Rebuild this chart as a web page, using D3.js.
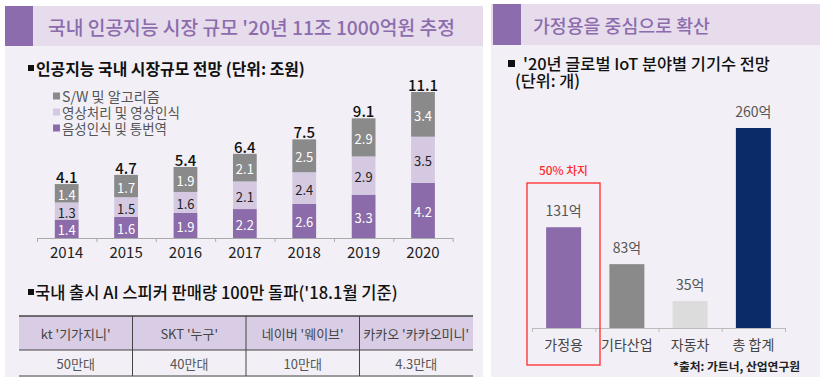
<!DOCTYPE html>
<html><head><meta charset="utf-8">
<script src="https://cdn.jsdelivr.net/npm/d3@7"></script>
<style>
html,body{margin:0;padding:0;background:#fff;}
svg{display:block;font-family:"Noto Sans CJK KR","Noto Sans",sans-serif;}
</style></head>
<body>
<script>
// ---------- data ----------
const years = ['2014','2015','2016','2017','2018','2019','2020'];
const voiceVals = [1.4,1.6,1.9,2.2,2.6,3.3,4.2];   // 음성인식 및 통번역
const imageVals = [1.3,1.5,1.6,2.1,2.4,2.9,3.5];   // 영상처리 및 영상인식
const swVals    = [1.4,1.7,1.9,2.1,2.5,2.9,3.4];   // S/W 및 알고리즘
const totalLabels = ['4.1','4.7','5.4','6.4','7.5','9.1','11.1'];
const seriesNames = ['S/W 및 알고리즘','영상처리 및 영상인식','음성인식 및 통번역'];

const speakerNames = ["kt '기가지니'","SKT '누구'","네이버 '웨이브'","카카오 '카카오미니'"];
const speakerSales = ['50만대','40만대','10만대','4.3만대'];

const iotCats = ['가정용','기타산업','자동차','총 합계'];
const iotVals = [131,83,35,260];
const iotLabels = ['131억','83억','35억','260억'];

// ---------- setup ----------
const W = 826, H = 383;
const svg = d3.select('body').append('svg').attr('width',W).attr('height',H);
const C = {
  panel:'#f2f0f6', bar:'#e6dcec', sq:'#8c6cac', title:'#8c6cac',
  purple:'#8b6ba9', gray:'#8a8a8a', light:'#d5c9e2', head:'#d8cde4', navy:'#0b2a68'
};
function fit(t, w){
  const cur = t.node().getComputedTextLength();
  const fs = parseFloat(t.attr('font-size'));
  if(cur>0) t.attr('font-size', (fs*w/cur).toFixed(2));
  return t;
}

// ---------- left panel ----------
svg.append('rect').attr('x',5).attr('y',6).attr('width',478).attr('height',371).attr('fill',C.panel);
svg.append('rect').attr('x',5).attr('y',6).attr('width',478).attr('height',40).attr('fill',C.bar);
svg.append('rect').attr('x',5).attr('y',6).attr('width',28).attr('height',40).attr('fill',C.sq);
fit(svg.append('text').attr('x',48).attr('y',27).attr('dominant-baseline','central')
  .attr('font-size',18).attr('fill',C.title).attr('font-weight',500)
  .text("국내 인공지능 시장 규모 '20년 11조 1000억원 추정"), 407);

svg.append('rect').attr('x',28).attr('y',65).attr('width',6).attr('height',6).attr('fill','#111');
fit(svg.append('text').attr('x',36).attr('y',68).attr('dominant-baseline','central')
  .attr('font-size',15).attr('font-weight',700).attr('fill','#111')
  .text('인공지능 국내 시장규모 전망 (단위: 조원)'), 269);

// legend
const legColors = [C.gray, C.light, C.purple];
const legWidths = [98,118,105];
const legY = [96,112,128];
seriesNames.forEach((n,i)=>{
  svg.append('rect').attr('x',53).attr('y',legY[i]-3.5).attr('width',7).attr('height',7).attr('fill',legColors[i]);
  fit(svg.append('text').attr('x',62).attr('y',legY[i]).attr('dominant-baseline','central')
    .attr('font-size',14).attr('fill','#555').text(n), legWidths[i]);
});

// stacked bars
const x = d3.scaleBand().domain(years).range([37,452.7]).paddingInner(0.6).paddingOuter(0.3);
const y = d3.scaleLinear().domain([0,11.1]).range([238,92]);
const rows = years.map((yr,i)=>({year:yr, voice:voiceVals[i], image:imageVals[i], sw:swVals[i]}));
const stack = d3.stack().keys(['voice','image','sw'])(rows);
const segColor = {voice:C.purple, image:C.light, sw:C.gray};
const segText = {voice:'#fff', image:'#222', sw:'#fff'};
const gBars = svg.append('g');
stack.forEach(layer=>{
  const g = gBars.append('g');
  g.selectAll('rect').data(layer).join('rect')
    .attr('x',d=>x(d.data.year)).attr('width',x.bandwidth())
    .attr('y',d=>y(d[1])).attr('height',d=>y(d[0])-y(d[1]))
    .attr('fill',segColor[layer.key]);
  g.selectAll('text').data(layer).join('text')
    .attr('x',d=>x(d.data.year)+x.bandwidth()/2)
    .attr('y',d=>(y(d[0])+y(d[1]))/2+1)
    .attr('text-anchor','middle').attr('dominant-baseline','central')
    .attr('font-size',13).attr('fill',segText[layer.key])
    .text(d=>d.data[layer.key].toFixed(1));
});
const topLayer = stack[2];
svg.append('g').selectAll('text').data(topLayer).join('text')
  .attr('x',d=>x(d.data.year)+x.bandwidth()/2)
  .attr('y',d=>y(d[1])-1)
  .attr('text-anchor','middle')
  .attr('font-size',15).attr('font-weight',500).attr('fill','#111')
  .text((d,i)=>totalLabels[i]);

// axis: boundary ticks + labels
const xb = d3.scaleLinear().domain([0,years.length]).range([37,452.7]);
const axB = svg.append('g').attr('transform','translate(0,238)')
  .call(d3.axisBottom(xb).ticks(years.length).tickSize(4).tickSizeOuter(0).tickFormat(''));
axB.selectAll('path,line').attr('stroke','#aaa');
const axL = svg.append('g').attr('transform','translate(0,238)')
  .call(d3.axisBottom(x).tickSize(0).tickPadding(9));
axL.select('.domain').remove();
axL.selectAll('text').attr('font-size',15).attr('fill','#222').attr('font-family','"Noto Sans CJK KR","Noto Sans",sans-serif');

// second heading
svg.append('rect').attr('x',28).attr('y',289).attr('width',6).attr('height',6).attr('fill','#111');
fit(svg.append('text').attr('x',35).attr('y',292).attr('dominant-baseline','central')
  .attr('font-size',15).attr('font-weight',500).attr('fill','#111')
  .text("국내 출시 AI 스피커 판매량 100만 돌파('18.1월 기준)"), 363);

// table
const tx = d3.scaleBand().domain(speakerNames).range([19,473]);
const tTop = 316, tMid = 350, tBot = 376;
svg.append('rect').attr('x',19).attr('y',tTop).attr('width',454).attr('height',tMid-tTop).attr('fill',C.head);
[tTop,tMid,tBot].forEach(yy=>{
  svg.append('line').attr('x1',19).attr('x2',473).attr('y1',yy).attr('y2',yy)
    .attr('stroke','#444').attr('stroke-width',yy===tTop?1.6:1.2);
});
speakerNames.slice(1).forEach(n=>{
  svg.append('line').attr('x1',tx(n)).attr('x2',tx(n)).attr('y1',tTop).attr('y2',tBot)
    .attr('stroke','#444').attr('stroke-width',1);
});
svg.append('g').selectAll('text').data(speakerNames).join('text')
  .attr('x',d=>tx(d)+tx.bandwidth()/2).attr('y',(tTop+tMid)/2)
  .attr('text-anchor','middle').attr('dominant-baseline','central')
  .attr('font-size',13).attr('fill','#444').text(d=>d);
svg.append('g').selectAll('text').data(speakerSales).join('text')
  .attr('x',(d,i)=>tx(speakerNames[i])+tx.bandwidth()/2).attr('y',(tMid+tBot)/2)
  .attr('text-anchor','middle').attr('dominant-baseline','central')
  .attr('font-size',13).attr('fill','#555').text(d=>d);

// ---------- right panel ----------
svg.append('rect').attr('x',491).attr('y',4).attr('width',329).attr('height',373).attr('fill',C.panel);
svg.append('rect').attr('x',491).attr('y',4).attr('width',329).attr('height',41).attr('fill',C.bar);
svg.append('rect').attr('x',493).attr('y',4).attr('width',28).attr('height',41).attr('fill',C.sq);
fit(svg.append('text').attr('x',533).attr('y',25).attr('dominant-baseline','central')
  .attr('font-size',18).attr('fill',C.title).attr('font-weight',500)
  .text('가정용을 중심으로 확산'), 177);

svg.append('rect').attr('x',508).attr('y',60).attr('width',7).attr('height',7).attr('fill','#111');
fit(svg.append('text').attr('x',523).attr('y',63).attr('dominant-baseline','central')
  .attr('font-size',15).attr('font-weight',500).attr('fill','#111')
  .text("'20년 글로벌 IoT 분야별 기기수 전망"), 247);
fit(svg.append('text').attr('x',515).attr('y',80).attr('dominant-baseline','central')
  .attr('font-size',15).attr('font-weight',500).attr('fill','#111')
  .text('(단위: 개)'), 65);

const x2 = d3.scaleBand().domain(iotCats).range([532,785]).paddingInner(0.447).paddingOuter(0.2235);
const y2 = d3.scaleLinear().domain([0,260]).range([328,128]);
const iotColors = [C.purple,'#8a8a8a','#dcdcdc',C.navy];
svg.append('g').selectAll('rect').data(iotVals).join('rect')
  .attr('x',(d,i)=>x2(iotCats[i])).attr('width',x2.bandwidth())
  .attr('y',d=>y2(d)).attr('height',d=>y2(0)-y2(d))
  .attr('fill',(d,i)=>iotColors[i]);
svg.append('g').selectAll('text').data(iotVals).join('text')
  .attr('x',(d,i)=>x2(iotCats[i])+x2.bandwidth()/2)
  .attr('y',d=>y2(d)-17).attr('dominant-baseline','central')
  .attr('text-anchor','middle').attr('font-size',14).attr('fill','#555')
  .text((d,i)=>iotLabels[i]);

const xb2 = d3.scaleLinear().domain([0,iotCats.length]).range([532,785]);
const axB2 = svg.append('g').attr('transform','translate(0,328)')
  .call(d3.axisBottom(xb2).ticks(iotCats.length).tickSize(4).tickSizeOuter(0).tickFormat(''));
axB2.selectAll('path,line').attr('stroke','#bbb');
const axL2 = svg.append('g').attr('transform','translate(0,328)')
  .call(d3.axisBottom(x2).tickSize(0).tickPadding(12));
axL2.select('.domain').remove();
axL2.selectAll('text').attr('font-size',14).attr('fill','#444').attr('font-family','"Noto Sans CJK KR","Noto Sans",sans-serif');

// red highlight
svg.append('rect').attr('x',527).attr('y',183).attr('width',73).attr('height',182)
  .attr('fill','none').attr('stroke','#ff2a2a').attr('stroke-width',1.3);
fit(svg.append('text').attr('x',539).attr('y',169).attr('dominant-baseline','central')
  .attr('font-size',13).attr('font-weight',500).attr('fill','#ff2a2a').text('50% 차지'), 49);

fit(svg.append('text').attr('x',673).attr('y',365).attr('dominant-baseline','central')
  .attr('font-size',12).attr('font-weight',700).attr('fill','#222').text('*출처: 가트너, 산업연구원'), 127);
</script>
</body></html>
